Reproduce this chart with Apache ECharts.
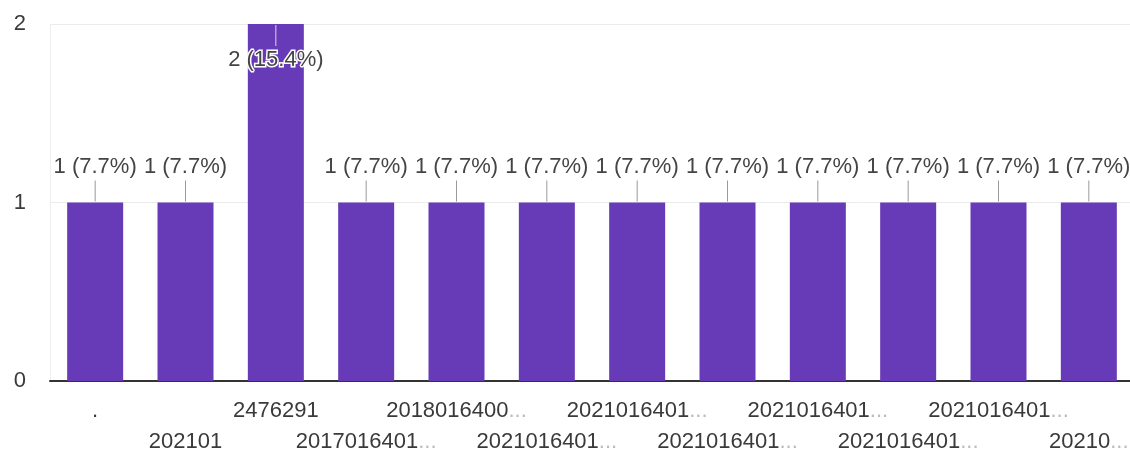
<!DOCTYPE html>
<html>
<head>
<meta charset="utf-8">
<script src="https://cdn.jsdelivr.net/npm/echarts@6/dist/echarts.min.js"></script>
<style>
html,body{margin:0;padding:0;background:#fff;}
#chart{width:1130px;height:453px;}
</style>
</head>
<body>
<div id="chart"></div>
<script>
// ---- data ----
const categories = [".", "202101", "2476291", "2017016401...", "2018016400...", "2021016401...",
  "2021016401...", "2021016401...", "2021016401...", "2021016401...", "2021016401...", "20210..."];
const counts = [1, 1, 2, 1, 1, 1, 1, 1, 1, 1, 1, 1];
const yTicks = [0, 1, 2];

const total = counts.reduce((a, b) => a + b, 0);
const FONT = '"Liberation Sans", Arial, sans-serif';
const chart = echarts.init(document.getElementById('chart'));

function fmtLabel(v) {
  return v + ' (' + (v / total * 100).toFixed(1) + '%)';
}

chart.setOption({
  animation: false,
  grid: { left: 50, right: -4, top: 24, bottom: 72, containLabel: false, outerBoundsMode: 'none' },
  xAxis: {
    type: 'category',
    data: categories,
    axisTick: { show: false },
    axisLine: { show: true, lineStyle: { color: '#333', width: 2 } },
    axisLabel: {
      interval: 0,
      margin: 14,
      fontSize: 22,
      lineHeight: 31,
      fontFamily: FONT,
      color: '#3a3a3a',
      formatter: function (v, i) {
        let s = v;
        if (s.endsWith('...')) s = s.slice(0, -3) + '{e|...}';
        return (i % 2 === 1 ? '\n' : '') + s;
      },
      rich: { e: { color: '#bbb', fontSize: 22, fontFamily: FONT, lineHeight: 31 } }
    }
  },
  yAxis: {
    type: 'value',
    min: yTicks[0],
    max: yTicks[yTicks.length - 1],
    interval: 1,
    axisLine: { show: true, lineStyle: { color: '#eee', width: 1 } },
    axisTick: { show: false },
    splitLine: { lineStyle: { color: '#ebebeb', width: 1 } },
    axisLabel: { fontSize: 22, fontFamily: FONT, color: '#3a3a3a', margin: 24 }
  },
  series: [
    {
      type: 'bar',
      data: counts,
      barWidth: 56,
      itemStyle: { color: '#673ab7' },
      z: 2
    },
    {
      type: 'custom',
      data: counts.map((v, i) => [i, v]),
      encode: { x: 0, y: 1 },
      z: 5,
      silent: true,
      renderItem: function (params, api) {
        const i = api.value(0), v = api.value(1);
        const p = api.coord([i, v]);
        const top = params.coordSys.y;
        const inside = (p[1] - 50) < top;
        const lineLen = 22;
        let y1, y2, ty, lineColor;
        if (!inside) {
          y1 = p[1] - 1; y2 = p[1] - lineLen; ty = y2 - 14; lineColor = '#9a9a9a';
        } else {
          y1 = p[1] + 1; y2 = p[1] + lineLen; ty = y2 + 14; lineColor = '#d8d8d8';
        }
        return {
          type: 'group',
          children: [
            { type: 'line', shape: { x1: p[0], y1: y1, x2: p[0], y2: y2 },
              style: { stroke: lineColor, lineWidth: 1 } },
            { type: 'text', x: p[0], y: ty,
              style: { text: fmtLabel(v), fill: '#444', font: '22px ' + FONT,
                align: 'center', verticalAlign: 'middle',
                stroke: '#fff', lineWidth: 3 } }
          ]
        };
      }
    }
  ]
});
</script>
</body>
</html>
